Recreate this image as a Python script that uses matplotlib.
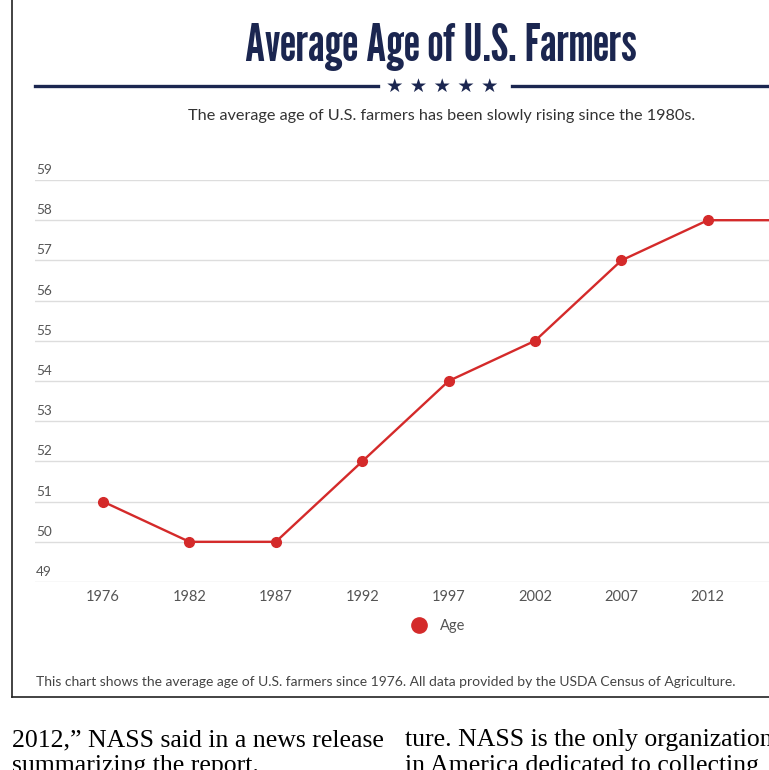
import matplotlib
matplotlib.use("Agg")
import matplotlib.pyplot as plt
from matplotlib.lines import Line2D
from matplotlib.transforms import blended_transform_factory, offset_copy
from matplotlib import font_manager

years = ["1976", "1982", "1987", "1992", "1997", "2002", "2007", "2012", "2017"]
ages = [51, 50, 50, 52, 54, 55, 57, 58, 58]
y_ticks = [49, 50, 51, 52, 53, 54, 55, 56, 57, 58, 59]

title = "Average Age of U.S. Farmers"
subtitle = "The average age of U.S. farmers has been slowly rising since the 1980s."
footer = "This chart shows the average age of U.S. farmers since 1976. All data provided by the USDA Census of Agriculture."
series_name = "Age"
article_left = ["2012,\u201d NASS said in a news release", "summarizing the report."]
article_right = ["ture. NASS is the only organization", "in America dedicated to collecting"]

W, H = 769, 770
NAVY = "#1b2650"
RED = "#d42a2a"
GREY_TXT = "#555555"

def fx(x):
    return x / W

def fy(y):
    return 1 - y / H

# pick the narrowest bold family that is installed for the title
installed = {f.name for f in font_manager.fontManager.ttflist}
title_family = "Liberation Sans"
for cand in ["League Gothic", "Oswald", "Roboto Condensed", "Open Sans Condensed",
             "Liberation Sans Narrow", "DejaVu Sans Condensed", "Noto Sans Condensed"]:
    if cand in installed:
        title_family = cand
        break
condensed_entries = [f for f in font_manager.fontManager.ttflist
                     if f.name in ("DejaVu Sans", "Noto Sans", "Open Sans", "Roboto")
                     and str(f.stretch) in ("condensed", "semi-condensed", "extra-condensed", "ultra-condensed", "75", "62.5", "87.5")
                     and str(f.weight) in ("bold", "700", "600", "semibold")]
title_stretch = "normal"
if title_family == "Liberation Sans" and condensed_entries:
    title_family = condensed_entries[0].name
    title_stretch = condensed_entries[0].stretch

fig = plt.figure(figsize=(W / 100, H / 100), dpi=100)
fig.patch.set_facecolor("white")

ax = fig.add_axes([fx(35), fy(582), (W - 35) / W, (582 - 180) / H])
x = list(range(len(years)))
ax.plot(x, ages, color=RED, lw=1.7, marker="o", markersize=7, zorder=3)
ax.set_xticks(x)
ax.set_xticklabels(years, fontsize=10.5, color=GREY_TXT, family="Lato")
ax.set_yticks(y_ticks)
ax.set_xlim(-0.787, 7.708)
ax.set_ylim(49, 59)
ax.yaxis.grid(True, color="#dddddd", lw=1)
ax.set_axisbelow(True)
ax.tick_params(axis="y", length=0, labelleft=False)
ax.tick_params(axis="x", length=0, pad=6)
for s in ax.spines.values():
    s.set_visible(False)

trans = offset_copy(blended_transform_factory(ax.transAxes, ax.transData), fig=fig, x=1, y=10, units="dots")
for t in y_ticks:
    ax.text(0, t, str(t), transform=trans, ha="left", va="center", fontsize=9.8,
            color=GREY_TXT, family="Lato")

# Title block: size fitted to the reference width (~392 px)
t_title = fig.text(fx(441), fy(47), title, ha="center", va="center", fontsize=30,
                   fontweight="bold", color=NAVY, family=title_family, fontstretch=title_stretch)
renderer = fig.canvas.get_renderer()
w_now = t_title.get_window_extent(renderer).width
t_title.set_fontsize(30 * 392.0 / w_now)

fig.add_artist(Line2D([fx(35), fx(378)], [fy(86), fy(86)], color=NAVY, lw=2.4, transform=fig.transFigure))
fig.add_artist(Line2D([fx(512), fx(W)], [fy(86), fy(86)], color=NAVY, lw=2.4, transform=fig.transFigure))
fig.text(fx(442), fy(86), "\u2605 \u2605 \u2605 \u2605 \u2605", ha="center", va="center", fontsize=14,
         color=NAVY, family="DejaVu Sans")
fig.text(fx(442), fy(116), subtitle, ha="center", va="center", fontsize=11.7,
         color="#333333", family="Lato")

# Legend
handle = Line2D([], [], color=RED, marker="o", linestyle="none", markersize=11)
fig.legend([handle], [series_name], loc="center", bbox_to_anchor=(fx(435), fy(626)),
           frameon=False, prop={"family": "Lato", "size": 10.5}, handletextpad=0.4,
           labelcolor=GREY_TXT)

fig.text(fx(36), fy(682), footer, ha="left", va="center", fontsize=10.0,
         color="#444444", family="Lato")

# Frame around chart
fig.add_artist(Line2D([fx(12), fx(12)], [fy(0), fy(697)], color="#222222", lw=1.2, transform=fig.transFigure))
fig.add_artist(Line2D([fx(12), fx(W)], [fy(697), fy(697)], color="#222222", lw=1.2, transform=fig.transFigure))

# Article text below (clipped by the page edge, as in the reference)
for i, line in enumerate(article_left):
    fig.text(fx(12), fy(740 + 26 * i), line, ha="left", va="center", fontsize=18.5,
             color="black", family="Liberation Serif")
for i, line in enumerate(article_right):
    fig.text(fx(405), fy(740 + 26 * i), line, ha="left", va="center", fontsize=18.5,
             color="black", family="Liberation Serif")

fig.savefig("out.png", dpi=100)
